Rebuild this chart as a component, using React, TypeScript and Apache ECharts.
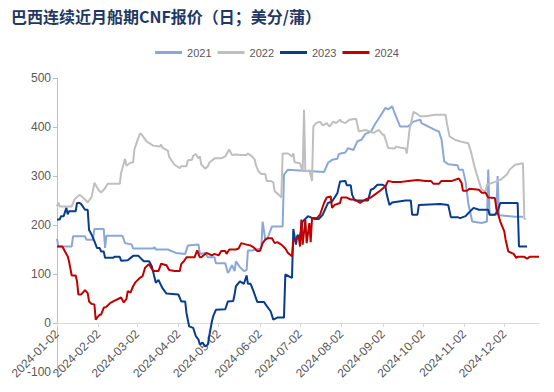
import React, { useEffect, useRef } from "react";
import * as echarts from "echarts";

const TITLE = "巴西连续近月船期CNF报价（日；美分/蒲）";
const YEAR_NAMES = ["2021", "2022", "2023", "2024"];
const YEAR_COLORS = ["#8BA7D9", "#BFBFBF", "#0A3C8C", "#C00000"];
const X_MIN = "2024-01-02";
const X_MAX = "2024-12-28";
const X_TICKS = [
  "2024-01-02", "2024-02-02", "2024-03-02", "2024-04-02", "2024-05-02", "2024-06-02",
  "2024-07-02", "2024-08-02", "2024-09-02", "2024-10-02", "2024-11-02", "2024-12-02",
];
const Y_MIN = -100;
const Y_MAX = 500;
const Y_STEP = 100;

// dates are "MM-DD" in 2024
const s2021: [string, number][] = [
  ["01-02", 172], ["01-03", 156], ["01-13", 156], ["01-14", 177], ["01-23", 177], ["01-24", 170],
  ["01-29", 170], ["01-30", 192], ["02-06", 192], ["02-07", 153], ["02-08", 178], ["02-20", 178],
  ["02-22", 163], ["02-27", 160], ["02-28", 152], ["03-14", 152], ["03-15", 155], ["03-16", 150],
  ["03-25", 150], ["03-31", 143], ["04-07", 141], ["04-09", 158], ["04-17", 160], ["04-18", 141],
  ["04-22", 143], ["04-24", 134], ["04-29", 134], ["04-30", 122], ["05-07", 122], ["05-09", 102],
  ["05-10", 106], ["05-12", 118], ["05-14", 106], ["05-15", 126], ["05-18", 114], ["05-21", 106],
  ["05-23", 108], ["05-24", 148], ["05-27", 148], ["05-30", 150], ["06-03", 152], ["06-04", 207],
  ["06-06", 170], ["06-08", 175], ["06-11", 197], ["06-19", 197], ["06-20", 303], ["06-23", 313],
  ["07-20", 308], ["07-23", 327], ["07-26", 333], ["07-30", 335], ["07-31", 345], ["08-05", 348],
  ["08-07", 357], ["08-11", 353], ["08-14", 371], ["08-17", 374], ["08-20", 386], ["08-24", 390],
  ["08-27", 405], ["08-31", 422], ["09-04", 439], ["09-06", 436], ["09-09", 442], ["09-11", 428],
  ["09-15", 401], ["09-21", 401], ["09-25", 411], ["09-30", 415], ["10-01", 408], ["10-11", 394],
  ["10-14", 391], ["10-16", 374], ["10-18", 330], ["10-21", 324], ["10-28", 322], ["10-29", 313],
  ["11-01", 313], ["11-03", 289], ["11-05", 245], ["11-08", 207], ["11-15", 204], ["11-19", 207],
  ["11-20", 313], ["11-21", 221], ["11-26", 221], ["11-27", 300], ["11-28", 220], ["12-10", 217],
  ["12-16", 217],
];

const s2022: [string, number][] = [
  ["01-02", 238], ["01-03", 246], ["01-04", 238], ["01-13", 238], ["01-15", 252], ["01-19", 262],
  ["01-23", 252], ["01-25", 246], ["01-28", 258], ["01-30", 286], ["02-02", 272], ["02-04", 266],
  ["02-07", 275], ["02-09", 284], ["02-18", 284], ["02-19", 306], ["02-22", 335], ["02-23", 321],
  ["02-26", 327], ["02-28", 328], ["02-29", 355], ["03-04", 386], ["03-05", 386], ["03-09", 371],
  ["03-14", 362], ["03-19", 360], ["03-20", 364], ["03-21", 358], ["03-25", 352], ["03-26", 339],
  ["03-30", 323], ["04-03", 316], ["04-04", 320], ["04-08", 320], ["04-09", 332], ["04-12", 333],
  ["04-13", 341], ["04-15", 345], ["04-17", 336], ["04-18", 340], ["04-19", 324], ["04-22", 315],
  ["04-24", 320], ["04-25", 327], ["04-29", 336], ["05-04", 336], ["05-07", 340], ["05-10", 354],
  ["05-12", 343], ["05-15", 344], ["05-19", 343], ["05-23", 343], ["05-24", 346], ["05-27", 340],
  ["05-29", 334], ["05-30", 322], ["06-01", 309], ["06-03", 304], ["06-06", 304], ["06-07", 290],
  ["06-10", 290], ["06-12", 287], ["06-13", 269], ["06-16", 262], ["06-18", 256], ["06-19", 346],
  ["06-23", 346], ["06-26", 340], ["06-27", 346], ["06-28", 328], ["07-02", 326], ["07-04", 309],
  ["07-05", 435], ["07-06", 309], ["07-09", 312], ["07-11", 290], ["07-12", 401], ["07-14", 408],
  ["07-17", 411], ["07-19", 403], ["07-22", 408], ["07-24", 401], ["07-27", 411], ["07-29", 408],
  ["08-01", 415], ["08-02", 411], ["08-05", 408], ["08-08", 415], ["08-13", 417], ["08-15", 391],
  ["08-20", 394], ["08-26", 388], ["08-30", 394], ["09-02", 384], ["09-03", 384], ["09-06", 357],
  ["09-11", 356], ["09-12", 360], ["09-15", 358], ["09-19", 356], ["09-20", 346], ["09-22", 394],
  ["09-25", 431], ["09-27", 428], ["09-30", 422], ["10-04", 422], ["10-11", 425], ["10-19", 425],
  ["10-20", 408], ["10-22", 381], ["10-26", 374], ["10-31", 370], ["11-05", 367], ["11-07", 350],
  ["11-10", 316], ["11-13", 289], ["11-15", 272], ["11-18", 269], ["11-19", 282], ["11-25", 288],
  ["11-29", 292], ["12-04", 303], ["12-06", 313], ["12-10", 323], ["12-16", 326], ["12-17", 214],
  ["12-18", 211],
];

const s2023: [string, number][] = [
  ["01-02", 211], ["01-04", 211], ["01-05", 218], ["01-07", 218], ["01-09", 235], ["01-10", 222],
  ["01-11", 228], ["01-16", 228], ["01-17", 245], ["01-19", 245], ["01-20", 243], ["01-23", 231],
  ["01-25", 231], ["01-26", 190], ["01-28", 180], ["01-30", 167], ["02-01", 153], ["02-03", 153],
  ["02-04", 146], ["02-06", 146], ["02-07", 133], ["02-13", 133], ["02-14", 135], ["02-18", 135],
  ["02-19", 127], ["02-24", 128], ["02-28", 137], ["03-03", 137], ["03-07", 126], ["03-11", 126],
  ["03-13", 116], ["03-16", 82], ["03-18", 88], ["03-21", 71], ["03-24", 60], ["04-02", 58],
  ["04-04", 44], ["04-07", 44], ["04-08", 20], ["04-10", -7], ["04-13", -10], ["04-15", -27],
  ["04-17", -34], ["04-18", -44], ["04-20", -40], ["04-22", -48], ["04-24", -44], ["04-25", -27],
  ["04-27", 3], ["04-28", 14], ["04-30", 27], ["05-07", 28], ["05-09", 44], ["05-13", 45],
  ["05-14", 58], ["05-15", 75], ["05-18", 85], ["05-21", 80], ["05-23", 97], ["05-24", 80],
  ["05-26", 80], ["05-28", 66], ["05-31", 43], ["06-05", 43], ["06-07", 35], ["06-10", 24],
  ["06-12", 7], ["06-15", 11], ["06-20", 11], ["06-21", 99], ["06-26", 92], ["06-27", 192],
  ["06-29", 160], ["06-30", 179], ["07-02", 177], ["07-04", 207], ["07-08", 218], ["07-13", 212],
  ["07-16", 212], ["07-19", 221], ["07-20", 227], ["07-23", 245], ["07-26", 248], ["07-30", 265],
  ["08-01", 289], ["08-05", 290], ["08-06", 281], ["08-09", 281], ["08-10", 262], ["08-12", 250],
  ["08-22", 250], ["08-24", 272], ["08-26", 274], ["08-29", 282], ["09-02", 282], ["09-04", 279],
  ["09-05", 262], ["09-07", 241], ["09-09", 246], ["09-19", 250], ["09-23", 250], ["09-24", 221],
  ["09-28", 221], ["09-29", 241], ["10-15", 243], ["10-21", 241], ["10-23", 216], ["10-28", 216],
  ["10-30", 214], ["11-03", 218], ["11-05", 224], ["11-09", 235], ["11-13", 231], ["11-20", 231],
  ["11-21", 221], ["11-25", 221], ["11-27", 228], ["11-29", 245], ["12-12", 245], ["12-13", 156],
  ["12-19", 156],
];

const s2024: [string, number][] = [
  ["01-02", 156], ["01-06", 156], ["01-09", 141], ["01-10", 136], ["01-11", 126], ["01-13", 97],
  ["01-16", 97], ["01-17", 85], ["01-18", 58], ["01-20", 58], ["01-23", 67], ["01-25", 61],
  ["01-26", 44], ["01-28", 39], ["01-30", 38], ["01-31", 7], ["02-01", 11], ["02-03", 17],
  ["02-04", 17], ["02-06", 31], ["02-08", 33], ["02-11", 41], ["02-16", 48], ["02-19", 52],
  ["02-21", 42], ["02-23", 49], ["02-24", 65], ["02-26", 62], ["02-28", 75], ["03-01", 84],
  ["03-04", 92], ["03-06", 95], ["03-08", 113], ["03-10", 118], ["03-11", 120], ["03-14", 106],
  ["03-18", 106], ["03-20", 121], ["03-24", 118], ["03-26", 108], ["03-30", 106], ["04-03", 106],
  ["04-04", 120], ["04-06", 126], ["04-08", 134], ["04-14", 134], ["04-16", 148], ["04-18", 134],
  ["04-19", 134], ["04-23", 143], ["04-27", 138], ["04-29", 141], ["05-02", 138], ["05-04", 147],
  ["05-07", 147], ["05-08", 141], ["05-10", 150], ["05-15", 150], ["05-17", 152], ["05-19", 163],
  ["05-23", 160], ["05-26", 158], ["05-28", 155], ["05-31", 147], ["06-02", 147], ["06-04", 163],
  ["06-06", 170], ["06-08", 173], ["06-11", 173], ["06-13", 163], ["06-15", 165], ["06-18", 160],
  ["06-21", 152], ["06-23", 143], ["06-26", 136], ["06-27", 167], ["06-30", 173], ["07-01", 177],
  ["07-02", 156], ["07-03", 211], ["07-04", 160], ["07-06", 211], ["07-07", 163], ["07-09", 204],
  ["07-10", 165], ["07-11", 214], ["07-15", 215], ["07-17", 221], ["07-20", 245], ["07-22", 256],
  ["07-25", 258], ["07-26", 235], ["07-28", 241], ["08-01", 245], ["08-02", 256], ["08-06", 256],
  ["08-09", 252], ["08-12", 252], ["08-16", 245], ["08-20", 252], ["08-24", 256], ["08-27", 262],
  ["08-31", 270], ["09-04", 279], ["09-06", 290], ["09-09", 288], ["09-16", 288], ["09-21", 290],
  ["09-28", 292], ["10-04", 290], ["10-08", 290], ["10-10", 284], ["10-14", 284], ["10-16", 290],
  ["10-24", 290], ["10-26", 292], ["10-29", 295], ["10-31", 286], ["11-01", 270], ["11-04", 270],
  ["11-06", 274], ["11-13", 272], ["11-15", 266], ["11-18", 266], ["11-20", 256], ["11-25", 255],
  ["11-26", 235], ["11-29", 207], ["12-02", 187], ["12-03", 170], ["12-05", 146], ["12-09", 141],
  ["12-11", 133], ["12-12", 135], ["12-17", 135], ["12-19", 131], ["12-21", 135], ["12-28", 135],
];

const SERIES_DATA = [s2021, s2022, s2023, s2024];

const toTs = (s: string) => {
  const [y, m, d] = s.split("-").map(Number);
  return new Date(y, m - 1, d).getTime();
};
const pad = (n: number) => (n < 10 ? "0" + n : "" + n);
const fmt = (v: number) => {
  const d = new Date(v);
  return d.getFullYear() + "-" + pad(d.getMonth() + 1) + "-" + pad(d.getDate());
};

const GRID_TOP = 78;
const GRID_BOTTOM = 20;
const CHART_H = 392;

export default function App() {
  const ref = useRef<HTMLDivElement>(null);
  useEffect(() => {
    if (!ref.current) return;
    const chart = echarts.init(ref.current, null, { renderer: "svg" });
    const tickTs = X_TICKS.map(toTs);
    const font = "'Liberation Sans', Arial, sans-serif";
    const gridH = CHART_H - GRID_TOP - GRID_BOTTOM;
    // shift the x axis up from the bottom edge (Y_MIN) to the zero line
    const zeroOffset = -Math.round((gridH * (0 - Y_MIN)) / (Y_MAX - Y_MIN));
    chart.setOption({
      animation: false,
      backgroundColor: "#ffffff",
      textStyle: { fontFamily: font },
      title: {
        text: TITLE,
        left: 6,
        top: 3,
        textStyle: {
          fontFamily: "'Noto Sans CJK SC', sans-serif",
          fontSize: 16,
          fontWeight: "bold",
          color: "#1F3864",
        },
      },
      legend: {
        data: YEAR_NAMES,
        left: "center",
        top: 42,
        icon: "rect",
        itemWidth: 27,
        itemHeight: 3,
        itemGap: 6,
        textStyle: { fontSize: 11, color: "#595959", fontFamily: font },
      },
      grid: {
        left: 57,
        right: 15,
        top: GRID_TOP,
        bottom: GRID_BOTTOM,
        containLabel: false,
        outerBoundsMode: "none",
      },
      xAxis: {
        type: "value",
        min: toTs(X_MIN),
        max: toTs(X_MAX),
        position: "bottom",
        offset: zeroOffset,
        axisLine: { onZero: false, lineStyle: { color: "#D9D9D9", width: 1 } },
        axisTick: {
          show: true,
          length: 4,
          customValues: tickTs,
          lineStyle: { color: "#D9D9D9" },
        },
        axisLabel: {
          customValues: tickTs,
          rotate: 45,
          margin: 9,
          fontSize: 12,
          color: "#595959",
          formatter: (v: number) => fmt(v),
        },
        splitLine: { show: false },
      },
      yAxis: {
        type: "value",
        min: Y_MIN,
        max: Y_MAX,
        interval: Y_STEP,
        axisLine: { show: true, onZero: false, lineStyle: { color: "#BFBFBF" } },
        axisTick: { show: true, length: 4, lineStyle: { color: "#BFBFBF" } },
        axisLabel: { fontSize: 12, color: "#595959", margin: 6 },
        splitLine: { show: false },
      },
      series: YEAR_NAMES.map((name, i) => ({
        name,
        type: "line",
        showSymbol: false,
        symbol: "none",
        color: YEAR_COLORS[i],
        lineStyle: { width: 2, color: YEAR_COLORS[i] },
        data: SERIES_DATA[i].map(([d, v]) => [toTs("2024-" + d), v]),
      })),
    });
    return () => chart.dispose();
  }, []);
  return (
    <div
      ref={ref}
      style={{ position: "absolute", left: 0, top: 0, width: 554, height: 392 }}
    />
  );
}
